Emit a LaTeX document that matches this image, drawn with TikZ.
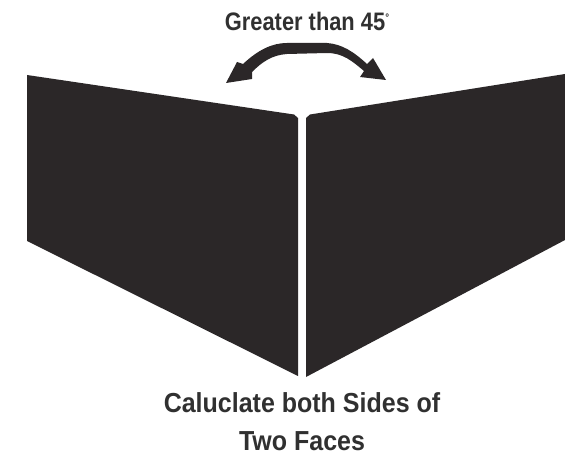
\documentclass[tikz,border=0pt]{standalone}
\usepackage{fontspec}
\setmainfont{Liberation Sans}
\definecolor{ink}{HTML}{2B2728}
\definecolor{txt}{HTML}{303030}
\tikzset{
  face/.style={fill=ink,draw=none},
  lab/.style={text=txt,inner sep=0pt,anchor=center,align=center,yscale=1.1,transform shape,font=\bfseries\fontsize{25}{34.5}\selectfont}
}
\begin{document}
\begin{tikzpicture}[x=1pt,y=-1pt]
\useasboundingbox (0,0) rectangle (565,457);
\fill[white] (0,0) rectangle (565,457);
\fill[face] (27,75) -- (294,114.5) -- (298,118) -- (298,376) -- (27,241) -- cycle;
\fill[face] (565,74) -- (310,114.5) -- (306,118) -- (306,377) -- (565,240) -- cycle;
\fill[face] (226,83) -- (237,62) -- (243,64)
  .. controls (258,50) and (272,43) .. (287,43)
  -- (327,43)
  .. controls (342,44) and (354,52) .. (367,64)
  -- (373,58) -- (386,80) -- (360,77) -- (364,71)
  .. controls (352,61) and (343,53) .. (327,53)
  -- (287,54)
  .. controls (272,55) and (262,62) .. (252,72)
  -- (252,79) -- cycle;
\node[lab,font=\bfseries\fontsize{23}{26}\selectfont] (top) at (307,21) {\addfontfeature{FakeStretch=0.95}Greater than 45\raisebox{8pt}{\fontsize{10}{10}\selectfont°}};
\node[lab] (cap) at (302,422) {Caluclate both Sides of\\Two Faces};
\end{tikzpicture}
\end{document}
